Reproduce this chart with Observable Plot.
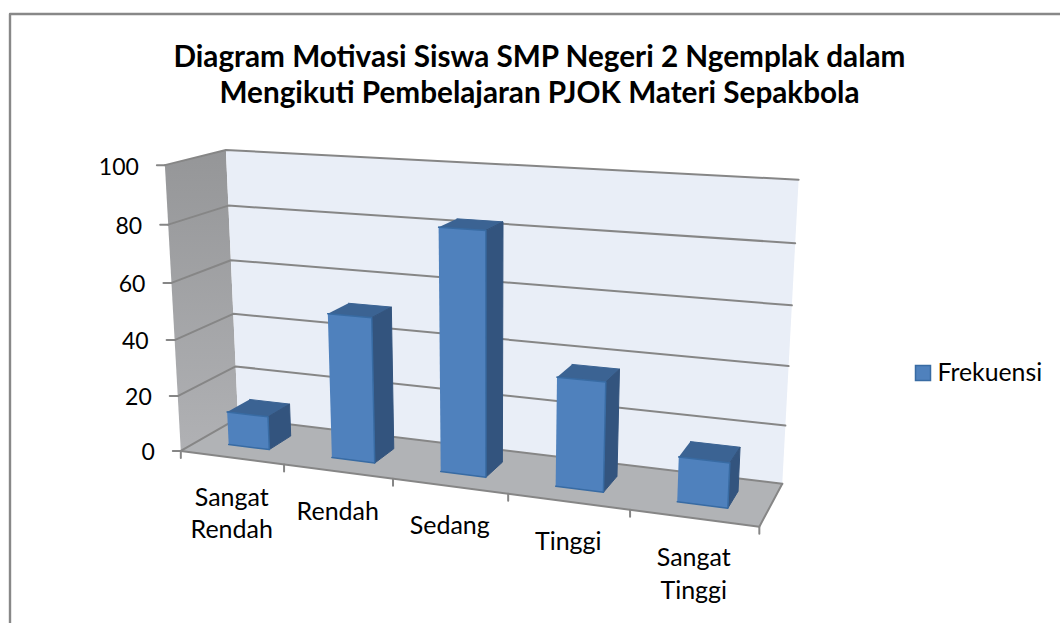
<!DOCTYPE html>
<html><head><meta charset="utf-8">
<style>html,body{margin:0;padding:0;background:#fff}svg{display:block}</style>
<script src="https://cdn.jsdelivr.net/npm/d3@7"></script>
<script src="https://cdn.jsdelivr.net/npm/@observablehq/plot@0.6"></script>
</head><body><div id="chart"></div>
<script>
const titleLines = ["Diagram Motivasi Siswa SMP Negeri 2 Ngemplak dalam","Mengikuti Pembelajaran PJOK Materi Sepakbola"];
const categories = ["Sangat\nRendah","Rendah","Sedang","Tinggi","Sangat\nTinggi"];
const frekuensi = [12,51,83,37,15];
const yTicks = [0,20,40,60,80,100];
const seriesName = "Frekuensi";

// Camera: where known points of the 3D box (category, depth, value) land on the page
const camera = [
 [0,0,0,181,450],[0,0,20,177.3,395],[0,0,40,174.3,339.3],[0,0,60,170.7,282.3],[0,0,80,167.7,224.3],[0,0,100,164.3,164.7],
 [0,1,0,237,418],[0,1,20,235,366],[0,1,40,233,313],[0,1,60,231,259],[0,1,80,228,205.7],[0,1,100,225,149.3],
 [5,1,0,781.7,482.3],[5,1,20,785,425.7],[5,1,40,788.3,365.7],[5,1,60,791,305],[5,1,80,795,243],[5,1,100,798,179],
 [1,0,0,283.3,465],[2,0,0,392.3,479],[3,0,0,507,493],[4,0,0,630,509],[5,0,0,759,526]
];
function fitCamera(rows){
  const A=[],b=[];
  for(const [u,v,z,x,y] of rows){
    const Z=z/100;
    A.push([u,v,Z,1,0,0,0,0,-x*u,-x*v,-x*Z]);b.push(x);
    A.push([0,0,0,0,u,v,Z,1,-y*u,-y*v,-y*Z]);b.push(y);
  }
  const n=11,M=d3.range(n).map(i=>d3.range(n+1).map(j=>{
    let s=0;for(let k=0;k<A.length;k++)s+=A[k][i]*(j<n?A[k][j]:b[k]);return s;}));
  for(let i=0;i<n;i++){
    let m=i;for(let r=i+1;r<n;r++)if(Math.abs(M[r][i])>Math.abs(M[m][i]))m=r;
    [M[i],M[m]]=[M[m],M[i]];
    for(let r=0;r<n;r++)if(r!==i){const f=M[r][i]/M[i][i];for(let c=i;c<=n;c++)M[r][c]-=f*M[i][c];}
  }
  return M.map((r,i)=>r[n]/r[i]);
}
const p=fitCamera(camera);
function project(u,v,z){
  const Z=z/100,w=p[8]*u+p[9]*v+p[10]*Z+1;
  return [(p[0]*u+p[1]*v+p[2]*Z+p[3])/w,(p[4]*u+p[5]*v+p[6]*Z+p[7])/w];
}
const quad=(id,pts)=>pts.map(([u,v,z])=>{const [x,y]=project(u,v,z);return {id,x,y};});

const N=categories.length, lo=0.3, hi=0.7;
const leftWall=quad("wall",[[0,0,0],[0,1,0],[0,1,100],[0,0,100]]);
const floor=quad("floor",[[0,0,0],[N,0,0],[N,1,0],[0,1,0]]);
const backWall=quad("back",[[0,1,0],[N,1,0],[N,1,100],[0,1,100]]);
const grid=yTicks.flatMap(t=>quad("g"+t,[[0,0,t],[0,1,t],[N,1,t]]));
const floorEdge=quad("e",[[0,0,0],[N,0,0],[N,1,0]]);
const yTickMarks=yTicks.flatMap(t=>{const a=project(0,0,t);return [{id:t,x:a[0],y:a[1]},{id:t,x:a[0]-8,y:a[1]}];});
const xTickMarks=d3.range(N+1).flatMap(i=>{const a=project(i,0,0);return [{id:i,x:a[0],y:a[1]},{id:i,x:a[0],y:a[1]+7}];});
const yLabels=yTicks.map(t=>{const a=project(0,0,t);return {t,x:a[0],y:a[1]};});
const xLabels=categories.map((c,i)=>{const a=project(i+.5,0,0);return {c,x:a[0],y:a[1]};});

const tops=[],sides=[],fronts=[];
frekuensi.forEach((val,i)=>{
  const a=i+lo,b=i+hi;
  tops.push(...quad("t"+i,[[a,lo,val],[b,lo,val],[b,hi,val],[a,hi,val]]));
  sides.push(...quad("s"+i,[[b,lo,0],[b,hi,0],[b,hi,val],[b,lo,val]]));
  fronts.push(...quad("f"+i,[[a,lo,0],[b,lo,0],[b,lo,val],[a,lo,val]]));
});

const defs=()=>{
  const d=d3.create("svg:defs");
  const g=d.append("linearGradient").attr("id","wallGrad").attr("x1",0).attr("y1",0).attr("x2",0).attr("y2",1);
  g.append("stop").attr("offset",0).attr("stop-color","#959698");
  g.append("stop").attr("offset",1).attr("stop-color","#b0b1b4");
  return d.node();
};
const frame=[{x:1060,y:13.5},{x:9.5,y:13.5},{x:9.5,y:623}];
const font="Lato, Carlito, sans-serif";
const plot=Plot.plot({
  width:1060,height:623,margin:0,
  x:{type:"linear",domain:[0,1060],range:[0,1060],axis:null},
  y:{type:"linear",domain:[0,623],range:[0,623],axis:null},
  style:{background:"#fff",fontFamily:font},
  marks:[
    defs,
    Plot.line(frame,{x:"x",y:"y",stroke:"#888888",strokeWidth:2.4}),
    Plot.line(leftWall,{x:"x",y:"y",fill:"url(#wallGrad)",stroke:"none"}),
    Plot.line(floor,{x:"x",y:"y",fill:"#b1b3b6",stroke:"none"}),
    Plot.line(backWall,{x:"x",y:"y",fill:"#e9eef7",stroke:"none"}),
    Plot.line(grid,{x:"x",y:"y",z:"id",stroke:"#868686",strokeWidth:2}),
    Plot.line(floorEdge,{x:"x",y:"y",stroke:"#868686",strokeWidth:2}),
    Plot.line(yTickMarks,{x:"x",y:"y",z:"id",stroke:"#868686",strokeWidth:2}),
    Plot.line(xTickMarks,{x:"x",y:"y",z:"id",stroke:"#868686",strokeWidth:2}),
    Plot.line(tops,{x:"x",y:"y",z:"id",fill:"#3b6393",stroke:"#3b6393",strokeWidth:1}),
    Plot.line(sides,{x:"x",y:"y",z:"id",fill:"#33547e",stroke:"#33547e",strokeWidth:1}),
    Plot.line(fronts,{x:"x",y:"y",z:"id",fill:"#4f81bd",stroke:"#386ba3",strokeWidth:1.5}),
    Plot.text(yLabels,{x:"x",y:"y",text:d=>String(d.t),dx:-26,dy:2,textAnchor:"end",fontSize:23,fill:"#000"}),
    Plot.text(xLabels,{x:"x",y:"y",text:"c",dy:25,lineAnchor:"top",lineHeight:1.3,textAnchor:"middle",fontSize:25,fill:"#000"}),
    Plot.text(titleLines,{x:()=>539,y:(d,i)=>57+i*36,text:d=>d,textAnchor:"middle",fontSize:29.7,fontWeight:700,fill:"#000"}),
    Plot.rect([seriesName],{x1:()=>915.5,x2:()=>930.5,y1:()=>365.5,y2:()=>380.5,fill:"#4f81bd",stroke:"#386ba3",strokeWidth:1.5}),
    Plot.text([seriesName],{x:()=>937,y:()=>373,text:d=>d,textAnchor:"start",fontSize:24.8,fill:"#000"})
  ]
});
document.getElementById("chart").append(plot);
</script></body></html>
